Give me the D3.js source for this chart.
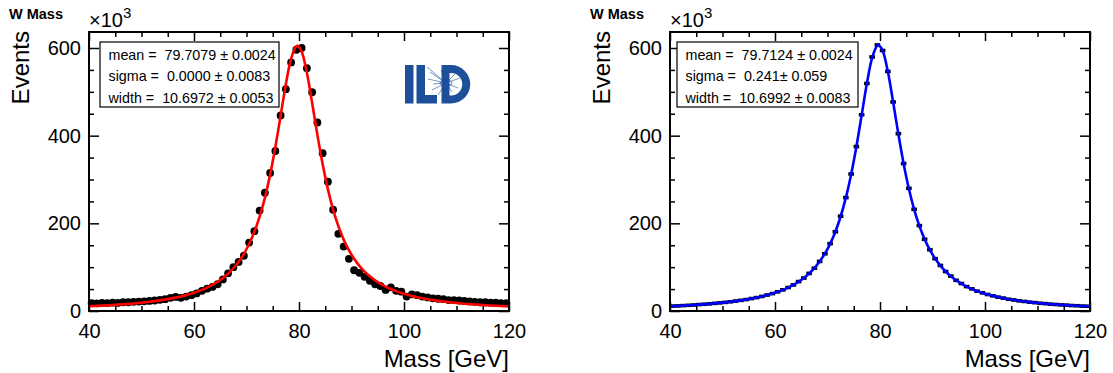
<!DOCTYPE html>
<html>
<head>
<meta charset="utf-8">
<script src="https://cdn.jsdelivr.net/npm/d3@7"></script>
<style>
  body { margin: 0; background: #fff; }
  svg { font-family: "Liberation Sans", Arial, sans-serif; }
  text { white-space: pre; }
</style>
</head>
<body>
<div id="chart"></div>
<script>
// bin centres (GeV) and bin contents (x10^3 events)
var binCenters = [40.5, 41.5, 42.5, 43.5, 44.5, 45.5, 46.5, 47.5, 48.5, 49.5,
  50.5, 51.5, 52.5, 53.5, 54.5, 55.5, 56.5, 57.5, 58.5, 59.5,
  60.5, 61.5, 62.5, 63.5, 64.5, 65.5, 66.5, 67.5, 68.5, 69.5,
  70.5, 71.5, 72.5, 73.5, 74.5, 75.5, 76.5, 77.5, 78.5, 79.5,
  80.5, 81.5, 82.5, 83.5, 84.5, 85.5, 86.5, 87.5, 88.5, 89.5,
  90.5, 91.5, 92.5, 93.5, 94.5, 95.5, 96.5, 97.5, 98.5, 99.5,
  100.5, 101.5, 102.5, 103.5, 104.5, 105.5, 106.5, 107.5, 108.5, 109.5,
  110.5, 111.5, 112.5, 113.5, 114.5, 115.5, 116.5, 117.5, 118.5, 119.5];

var recoCounts = [18, 17.5, 18.5, 18, 19, 18.5, 20, 20, 21, 21.5,
  22, 23, 24, 25.5, 27, 30, 32, 30, 33, 36,
  40, 46, 51, 55, 61, 72, 86, 100, 112, 126,
  156, 182, 229, 270, 315, 365, 446, 506, 567, 596,
  600, 554, 499, 430, 360, 295, 231, 176, 147, 119,
  93, 87, 78, 69, 61, 57, 48, 54, 46, 44,
  33, 38, 36, 33, 31, 29, 28, 27, 25, 25,
  24, 23, 22, 21, 20, 20, 19, 19, 18, 18];

var trueCounts = [11.2, 11.6, 12.3, 13.0, 13.7, 14.6, 15.4, 16.3, 17.4, 18.5,
  19.7, 21.0, 22.7, 24.3, 26.1, 28.4, 30.6, 33.2, 36.4, 39.7,
  43.8, 48.2, 53.6, 59.5, 67.1, 75.2, 85.8, 97.6, 113.1, 130.6,
  153.7, 180.8, 216.3, 258.7, 312.6, 375.2, 447.6, 519.0, 579.5, 607.0,
  594.3, 546.6, 476.8, 404.6, 336.4, 279.9, 232.0, 194.8, 163.6, 139.8,
  119.4, 103.9, 90.1, 79.6, 70.0, 62.7, 55.7, 50.5, 45.3, 41.5,
  37.6, 34.7, 31.6, 29.4, 26.9, 25.2, 23.2, 21.8, 20.2, 19.1,
  17.7, 16.8, 15.6, 14.9, 13.9, 13.4, 12.5, 12.0, 11.2, 10.9];

// fitted curve samples
var fitMass = [40, 40.5, 41.5, 42.5, 43.5, 44.5, 45.5, 46.5, 47.5, 48.5, 49.5,
  50.5, 51.5, 52.5, 53.5, 54.5, 55.5, 56.5, 57.5, 58.5, 59.5,
  60.5, 61.5, 62.5, 63.5, 64.5, 65.5, 66.5, 67.5, 68.5, 69.5,
  70.5, 71.5, 72.5, 73.5, 74.5, 75.5, 76.5, 77.5, 78.5, 79.5, 79.7,
  80.5, 81.5, 82.5, 83.5, 84.5, 85.5, 86.5, 87.5, 88.5, 89.5,
  90.5, 91.5, 92.5, 93.5, 94.5, 95.5, 96.5, 97.5, 98.5, 99.5,
  100.5, 101.5, 102.5, 103.5, 104.5, 105.5, 106.5, 107.5, 108.5, 109.5,
  110.5, 111.5, 112.5, 113.5, 114.5, 115.5, 116.5, 117.5, 118.5, 119.5, 120];

var recoFit = [10.8, 11.06, 11.63, 12.25, 12.93, 13.65, 14.45, 15.31, 16.25, 17.28, 18.40,
  19.64, 21.01, 22.52, 24.21, 26.09, 28.18, 30.54, 33.19, 36.21, 39.65,
  43.59, 48.09, 53.35, 59.47, 66.67, 75.17, 85.33, 97.55, 112.4, 130.5,
  152.9, 180.6, 215.2, 258.2, 311.1, 374.3, 445.5, 517.5, 576.0, 604.2, 605.0,
  591.8, 543.5, 474.9, 402.1, 335.1, 278.1, 231.2, 193.5, 163.2, 138.9,
  119.2, 103.1, 89.94, 79.02, 69.89, 62.21, 55.68, 50.11, 45.31, 41.15,
  37.53, 34.36, 31.56, 29.09, 26.89, 24.93, 23.18, 21.60, 20.17, 18.88,
  17.71, 16.65, 15.67, 14.78, 13.96, 13.21, 12.52, 11.88, 11.28, 10.73, 10.5];

var trueFit = [10.9, 11.1, 11.7, 12.3, 13.0, 13.7, 14.5, 15.4, 16.3, 17.3, 18.5,
  19.7, 21.1, 22.6, 24.3, 26.2, 28.3, 30.6, 33.3, 36.3, 39.8,
  43.7, 48.2, 53.5, 59.6, 66.9, 75.4, 85.6, 97.8, 112.7, 130.8,
  153.2, 181.0, 215.6, 258.6, 311.6, 374.8, 446.4, 518.8, 577.6, 606.0, 607.0,
  594.0, 545.6, 476.6, 403.5, 336.2, 279.0, 231.9, 194.1, 163.7, 139.3,
  119.6, 103.4, 90.2, 79.3, 70.1, 62.4, 55.8, 50.2, 45.4, 41.3,
  37.6, 34.5, 31.7, 29.2, 27.0, 25.0, 23.3, 21.7, 20.2, 18.9,
  17.8, 16.7, 15.7, 14.8, 14.0, 13.3, 12.6, 11.9, 11.3, 10.8, 10.5];

var xMajor = [40, 60, 80, 100, 120];
var xMinor = [45, 50, 55, 65, 70, 75, 85, 90, 95, 105, 110, 115];
var yMajor = [0, 200, 400, 600];
var yMinor = [50, 100, 150, 250, 300, 350, 450, 500, 550];

var recoStats = ["mean =  79.7079 \u00b1 0.0024", "sigma =  0.0000 \u00b1 0.0083", "width =  10.6972 \u00b1 0.0053"];
var trueStats = ["mean =  79.7124 \u00b1 0.0024", "sigma =  0.241\u00b1 0.059", "width =  10.6992 \u00b1 0.0083"];

var svgWidth = 1113;
var svgHeight = 373;

var svg = d3.select("#chart")
  .append("svg")
  .attr("width", svgWidth)
  .attr("height", svgHeight);

function drawPanel(ox, counts, fit, stats, color, style, box, logo) {
  var g = svg.append("g").attr("transform", `translate(${ox},0)`);
  var left = 89, right = 509, top = 32, bottom = 311;

  var x = d3.scaleLinear().domain([40, 120]).range([left, right]);
  var y = d3.scaleLinear().domain([0, 636.5]).range([bottom, top]);

  // ticks, pointing inward on all four sides
  function tickAxis(axis, tr, vals, size, labels) {
    var a = g.append("g").attr("transform", tr)
      .call(axis.tickValues(vals).tickSize(size).tickPadding(labels ? 13 : 0)
        .tickFormat(labels ? d3.format("d") : ""));
    a.select(".domain").remove();
    a.selectAll("line").attr("stroke", "#000").attr("stroke-width", 1.5);
    a.selectAll("text").attr("font-size", "20px").attr("fill", "#000")
      .attr("font-family", "Liberation Sans, Arial, sans-serif");
    return a;
  }
  tickAxis(d3.axisBottom(x), `translate(0,${bottom})`, xMajor, -9, true);
  tickAxis(d3.axisBottom(x), `translate(0,${bottom})`, xMinor, -5, false);
  tickAxis(d3.axisTop(x), `translate(0,${top})`, xMajor, -9, false);
  tickAxis(d3.axisTop(x), `translate(0,${top})`, xMinor, -5, false);
  var ya = tickAxis(d3.axisLeft(y), `translate(${left},0)`, yMajor, -10, true);
  ya.selectAll("text").attr("x", -8);
  tickAxis(d3.axisLeft(y), `translate(${left},0)`, yMinor, -5, false);
  tickAxis(d3.axisRight(y), `translate(${right},0)`, yMajor, -10, false);
  tickAxis(d3.axisRight(y), `translate(${right},0)`, yMinor, -5, false);

  // data points
  if (style === "circle") {
    g.append("g").selectAll("circle").data(binCenters).enter()
      .append("circle")
      .attr("cx", d => x(d))
      .attr("cy", (d, i) => y(counts[i]))
      .attr("r", 3.9)
      .attr("fill", "#000");
  } else {
    g.append("g").selectAll("rect").data(binCenters).enter()
      .append("rect")
      .attr("x", d => x(d) - 2.8)
      .attr("y", (d, i) => y(counts[i]) - 1.8)
      .attr("width", 5.6)
      .attr("height", 3.6)
      .attr("fill", "#000");
  }

  // fit function
  var line = d3.line()
    .x(d => x(d))
    .y((d, i) => y(fit[i]))
    .curve(d3.curveCatmullRom);
  g.append("path")
    .datum(fitMass)
    .attr("d", line)
    .attr("fill", "none")
    .attr("stroke", color)
    .attr("stroke-width", 2.6);

  // frame
  g.append("rect")
    .attr("x", left).attr("y", top)
    .attr("width", right - left).attr("height", bottom - top)
    .attr("fill", "none").attr("stroke", "#000").attr("stroke-width", 2);

  // stat box
  g.append("rect")
    .attr("x", box[0]).attr("y", 42)
    .attr("width", box[1]).attr("height", 65)
    .attr("fill", "#fff").attr("stroke", "#000").attr("stroke-width", 1.2);
  g.selectAll(".stat").data(stats).enter()
    .append("text")
    .attr("class", "stat")
    .attr("xml:space", "preserve")
    .attr("x", box[0] + 8.5)
    .attr("y", (d, i) => 59.5 + i * 21.5)
    .attr("font-size", "14.3px")
    .text(d => d);

  // titles
  g.append("text").attr("x", 9).attr("y", 19)
    .attr("font-size", "14.5px").attr("font-weight", "bold").text("W Mass");
  var mult = g.append("text").attr("x", 89).attr("y", 27).attr("font-size", "20px");
  mult.append("tspan").text("\u00d710");
  mult.append("tspan").attr("dy", -9).attr("font-size", "15px").text("3");
  g.append("text")
    .attr("transform", "translate(29,31) rotate(-90)")
    .attr("text-anchor", "end")
    .attr("font-size", "24px")
    .text("Events");
  g.append("text")
    .attr("x", right).attr("y", 367)
    .attr("text-anchor", "end")
    .attr("font-size", "24px")
    .text("Mass [GeV]");

  if (logo) drawLogo(g);
}

function drawLogo(g) {
  var c = "#1d4f9b";
  var l = g.append("g");
  l.append("rect").attr("x", 405).attr("y", 65).attr("width", 8.5).attr("height", 38.5).attr("fill", c);
  l.append("path").attr("d", "M416.5,65 H425 V95 H437 V103.5 H416.5 Z").attr("fill", c);
  l.append("path")
    .attr("d", "M441.5,65 H451 A19.25,19.25 0 0 1 451,103.5 H441.5 Z M449.5,73 V95.5 H451 A11.25,11.25 0 0 0 451,73 Z")
    .attr("fill", c).attr("fill-rule", "evenodd");
  // tracks
  var tracks = [[446, 83, 427, 67], [446, 83, 430, 72], [446, 83, 428, 79], [446, 83, 432, 90],
    [446, 83, 438, 95], [446, 83, 444, 97], [446, 83, 452, 92], [446, 83, 458, 88],
    [446, 83, 460, 78], [446, 83, 455, 74], [446, 83, 441, 70], [446, 83, 433, 84]];
  l.selectAll("line").data(tracks).enter().append("line")
    .attr("x1", d => d[0]).attr("y1", d => d[1])
    .attr("x2", d => d[2]).attr("y2", d => d[3])
    .attr("stroke", c).attr("stroke-width", 0.6);
  l.append("ellipse").attr("cx", 446).attr("cy", 83).attr("rx", 6).attr("ry", 3)
    .attr("fill", "none").attr("stroke", c).attr("stroke-width", 0.7);
}

drawPanel(0, recoCounts, recoFit, recoStats, "#ff0000", "circle", [100, 179], true);
drawPanel(581, trueCounts, trueFit, trueStats, "#0000ff", "rect", [96, 181], false);
</script>
</body>
</html>
